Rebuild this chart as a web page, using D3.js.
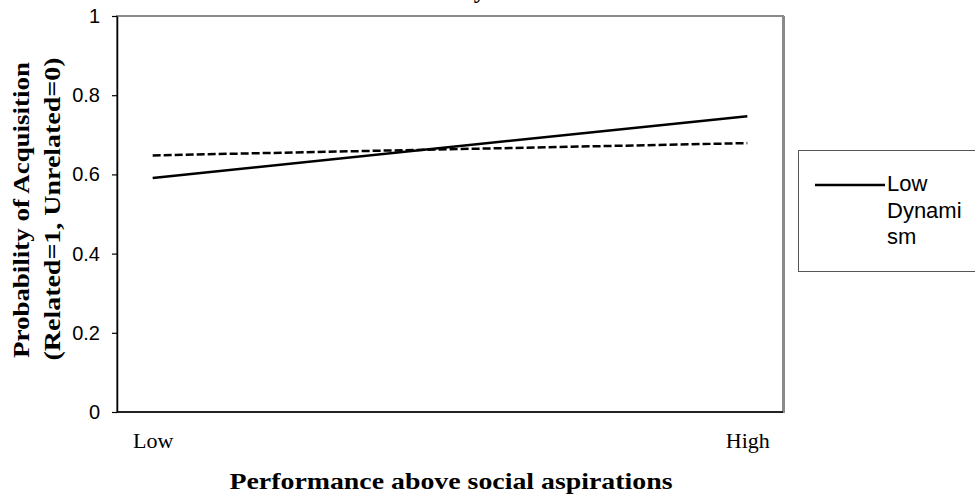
<!DOCTYPE html>
<html>
<head>
<meta charset="utf-8">
<script src="https://cdn.jsdelivr.net/npm/d3@7"></script>
<style>
    body { margin: 0; background: #fff; }
    svg { display: block; }
    .tick-label { font-family: "Liberation Sans", Arial, sans-serif; font-size: 20px; fill: #000; }
    .cat-label { font-family: "Liberation Serif", "Times New Roman", serif; font-size: 22px; fill: #000; }
    .axis-title { font-family: "Liberation Serif", "Times New Roman", serif; font-size: 24px; font-weight: bold; fill: #000; }
    .legend-text { font-family: "Liberation Sans", Arial, sans-serif; font-size: 22px; fill: #000; }
</style>
</head>
<body>
<div id="chart"></div>
<script>
var width = 975;
var height = 502;

var plotLeft = 117;
var plotRight = 783;
var plotTop = 16;
var plotBottom = 412;

// DATA
var categories = ['Low', 'High'];
var lowDynamism = [0.591, 0.747];   // solid line
var highDynamism = [0.648, 0.679];  // dashed line (legend entry cut off)
var yTicks = [0, 0.2, 0.4, 0.6, 0.8, 1];
var legendLines = ['Low', 'Dynami', 'sm'];
var chartTitle = 'Low Dynamism';
var xTitle = 'Performance above social aspirations';
var yTitle1 = 'Probability of Acquisition';
var yTitle2 = '(Related=1, Unrelated=0)';

var svg = d3.select('#chart')
    .append('svg')
    .attr('width', width)
    .attr('height', height)

var x = d3.scalePoint()
    .domain(categories)
    .range([plotLeft, plotRight])
    .padding(0.06)

var y = d3.scaleLinear()
    .domain([0, 1])
    .range([plotBottom, plotTop])

// title, mostly above the visible area
svg.append('text')
    .text(chartTitle)
    .attr('class', 'axis-title')
    .attr('x', 405)
    .attr('y', -2)

// plot area border (grey, like the excel frame)
svg.append('rect')
    .attr('x', plotLeft)
    .attr('y', plotTop)
    .attr('width', plotRight - plotLeft)
    .attr('height', plotBottom - plotTop)
    .attr('fill', 'none')
    .attr('stroke', '#8a8a8a')
    .attr('stroke-width', 2)
svg.append('line')
    .attr('x1', plotRight + 1)
    .attr('x2', plotRight + 1)
    .attr('y1', plotTop)
    .attr('y2', plotBottom + 1)
    .attr('stroke', '#8a8a8a')
    .attr('stroke-width', 2)

// y axis
var yAxis = svg.append('g')
    .attr('transform', 'translate(' + plotLeft + ',0)')
    .call(d3.axisLeft(y)
        .tickValues(yTicks)
        .tickSize(5)
        .tickSizeOuter(0)
        .tickPadding(12)
        .tickFormat(d3.format('~g')))
yAxis.attr('font-size', null).attr('font-family', null)
yAxis.select('.domain').attr('stroke', '#000').attr('stroke-width', 1.5)
yAxis.selectAll('.tick line').attr('stroke', '#000').attr('stroke-width', 1.2)
yAxis.selectAll('.tick text')
    .attr('class', 'tick-label')

// x axis
var xAxis = svg.append('g')
    .attr('transform', 'translate(0,' + plotBottom + ')')
    .call(d3.axisBottom(x)
        .tickSize(0)
        .tickSizeOuter(0))
xAxis.attr('font-size', null).attr('font-family', null)
xAxis.select('.domain')
    .attr('stroke', '#000')
    .attr('stroke-width', 1.5)
    .attr('d', 'M' + plotLeft + ',0H' + plotRight)
xAxis.selectAll('.tick text')
    .attr('class', 'cat-label')
    .attr('y', 36)
    .attr('dy', 0)

// lines
var line = d3.line()
    .x(function (d, i) { return x(categories[i]); })
    .y(function (d) { return y(d); })

svg.append('path')
    .datum(highDynamism)
    .attr('fill', 'none')
    .attr('stroke', '#000')
    .attr('stroke-width', 2.5)
    .attr('stroke-dasharray', '8,3')
    .attr('d', line)

svg.append('path')
    .datum(lowDynamism)
    .attr('fill', 'none')
    .attr('stroke', '#000')
    .attr('stroke-width', 2.5)
    .attr('d', line)

// axis titles
svg.append('text')
    .text(xTitle)
    .attr('class', 'axis-title')
    .attr('text-anchor', 'middle')
    .attr('x', 451)
    .attr('y', 489)
    .attr('textLength', 443)
    .attr('lengthAdjust', 'spacingAndGlyphs')

svg.append('text')
    .text(yTitle1)
    .attr('class', 'axis-title')
    .attr('text-anchor', 'middle')
    .attr('transform', 'translate(29,210) rotate(-90)')
    .attr('textLength', 296)
    .attr('lengthAdjust', 'spacingAndGlyphs')

svg.append('text')
    .text(yTitle2)
    .attr('class', 'axis-title')
    .attr('text-anchor', 'middle')
    .attr('transform', 'translate(60,209) rotate(-90)')
    .attr('textLength', 303)
    .attr('lengthAdjust', 'spacingAndGlyphs')

// legend (right part is cut off by the picture)
var legend = svg.append('g')
    .attr('transform', 'translate(798,150)')

legend.append('rect')
    .attr('x', 0.5)
    .attr('y', 0.5)
    .attr('width', 200)
    .attr('height', 121)
    .attr('fill', '#fff')
    .attr('stroke', '#555')
    .attr('stroke-width', 1)

legend.append('line')
    .attr('x1', 17)
    .attr('x2', 87)
    .attr('y1', 35)
    .attr('y2', 35)
    .attr('stroke', '#000')
    .attr('stroke-width', 2.5)

legend.selectAll('.legend-text')
    .data(legendLines)
    .enter().append('text')
    .attr('class', 'legend-text')
    .attr('x', 89)
    .attr('y', function (d, i) { return 41 + i * 26.5; })
    .text(function (d) { return d; })
</script>
</body>
</html>
